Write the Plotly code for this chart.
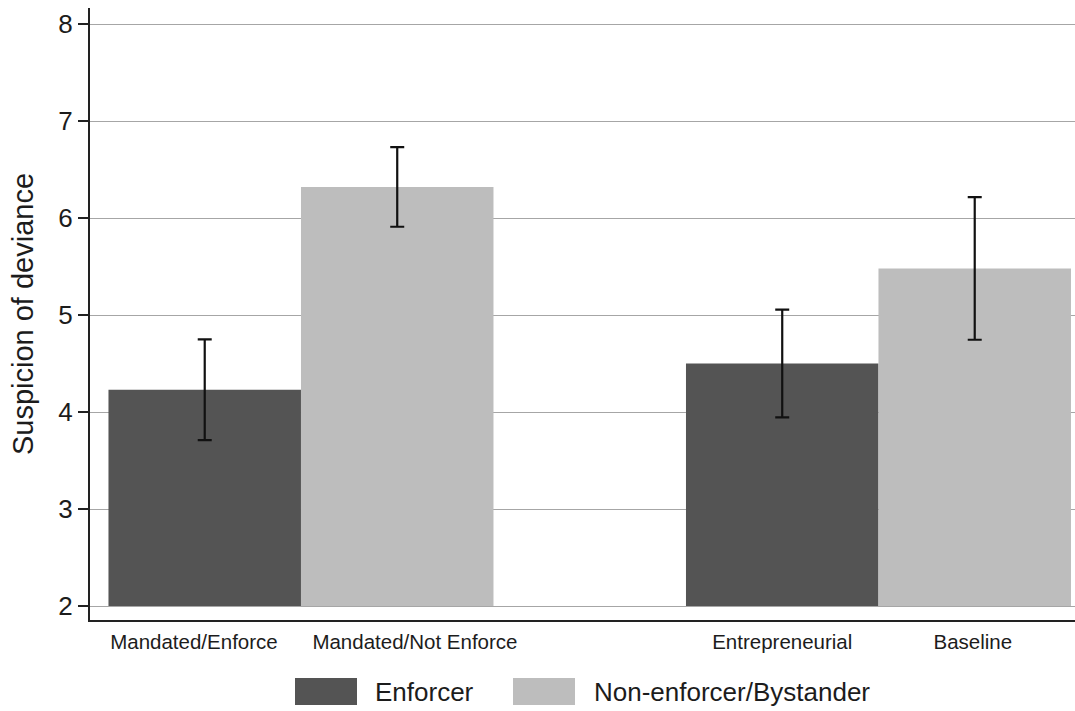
import plotly.graph_objects as go

# Group means and 95% CI half-widths for suspicion of deviance
conditions = ["Mandated/Enforce", "Mandated/Not Enforce", "Entrepreneurial", "Baseline"]
roles = ["Enforcer", "Non-enforcer/Bystander", "Enforcer", "Non-enforcer/Bystander"]
means = [4.23, 6.32, 4.50, 5.48]
ci_half = [0.52, 0.41, 0.555, 0.735]

# Bars rise from the bottom of the scale
BASE = 2

# Bar slots along the x axis (an empty slot separates the two pairs)
slots = [0, 1, 3, 4]
label_slots = [-0.056, 1.092, 3.0, 3.99]

role_colors = {"Enforcer": "#545454", "Non-enforcer/Bystander": "#bdbdbd"}
legend_order = ["Enforcer", "Non-enforcer/Bystander"]

W, H = 1075, 711
M_L, M_R, M_T, M_B = 90, 0, 8, 91
plot_w = W - M_L - M_R
plot_h = H - M_T - M_B
FONT = "Liberation Sans, Arial, sans-serif"
INK = "#1c1c1c"


def px_x(px):
    return (px - M_L) / plot_w


def px_y(py):
    return (H - M_B - py) / plot_h


fig = go.Figure()
for role in legend_order:
    idx = [i for i, r in enumerate(roles) if r == role]
    fig.add_trace(go.Bar(
        x=[slots[i] for i in idx],
        y=[means[i] - BASE for i in idx],
        base=BASE,
        width=1.0,
        name=role,
        customdata=[conditions[i] for i in idx],
        hovertemplate="%{customdata}<br>%{y:.2f}<extra>" + role + "</extra>",
        marker=dict(color=role_colors[role], line=dict(width=0)),
        error_y=dict(type="data", array=[ci_half[i] for i in idx],
                     color="#111111", thickness=2.2, width=7),
        showlegend=False,
    ))

fig.update_layout(
    width=W, height=H,
    margin=dict(l=M_L, r=M_R, t=M_T, b=M_B),
    paper_bgcolor="white", plot_bgcolor="white",
    barmode="overlay",
    font=dict(family=FONT, color=INK),
    showlegend=False,
)

fig.update_xaxes(
    range=[-0.596, -0.596 + plot_w / 192.5],
    tickvals=label_slots, ticktext=conditions,
    tickfont=dict(size=20.5, color=INK),
    ticks="", showgrid=False, zeroline=False,
    showline=True, linecolor="#222222", linewidth=2,
    ticklabelstandoff=2,
)
fig.update_yaxes(
    range=[1.856, 1.856 + plot_h / 97.0],
    tickvals=[2, 3, 4, 5, 6, 7, 8],
    tickfont=dict(size=26, color=INK),
    ticks="outside", ticklen=10, tickwidth=2, tickcolor="#222222",
    showline=True, linecolor="#222222", linewidth=2,
    showgrid=True, gridcolor="#a6a6a6", gridwidth=1,
    zeroline=False,
    ticklabelstandoff=0,
    title=dict(text="Suspicion of deviance", font=dict(size=29, color=INK), standoff=16),
)

# Legend drawn as swatches with labels below the plot
legend_items = [
    ("Enforcer", 295, 357, 373),
    ("Non-enforcer/Bystander", 513, 575, 592),
]
for role, x0, x1, tx in legend_items:
    fig.add_shape(type="rect", xref="paper", yref="paper",
                  x0=px_x(x0), x1=px_x(x1), y0=px_y(705), y1=px_y(678),
                  fillcolor=role_colors[role], line=dict(width=0))
    fig.add_annotation(xref="paper", yref="paper", x=px_x(tx), y=px_y(691.5),
                       text=role, showarrow=False, xanchor="left", yanchor="middle",
                       font=dict(size=26, color=INK, family=FONT))

fig.write_html("out.html")
